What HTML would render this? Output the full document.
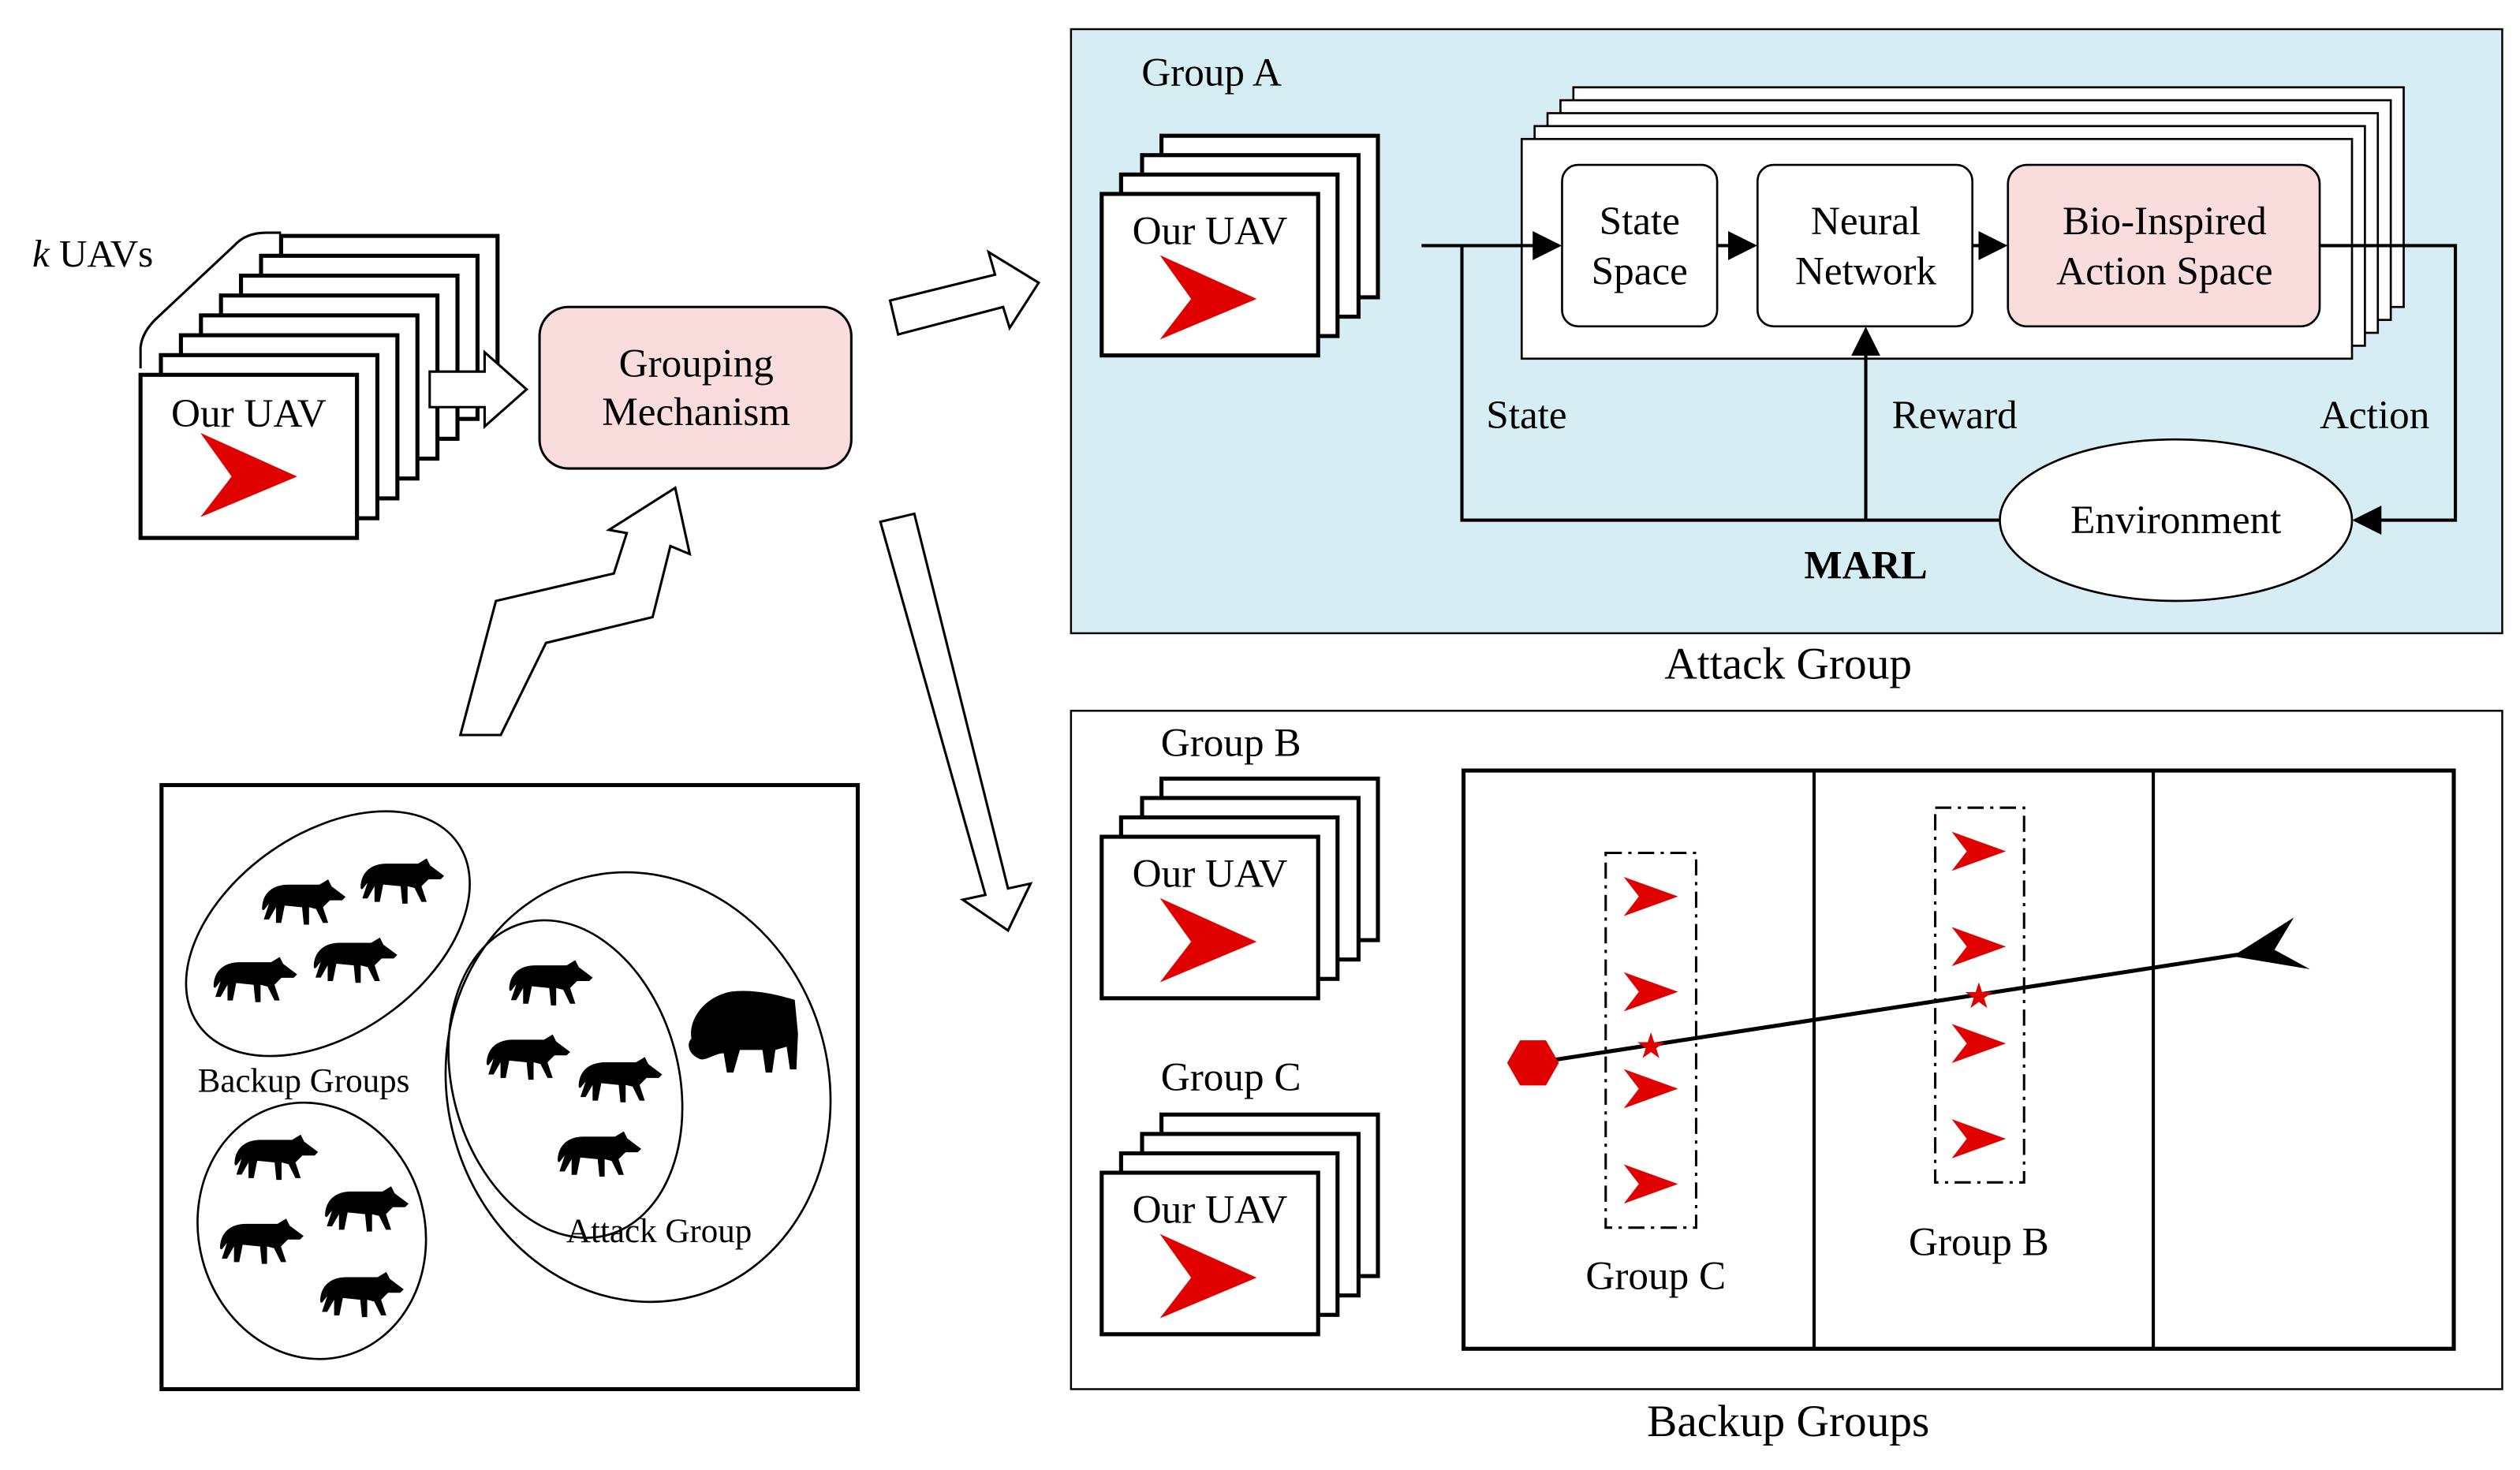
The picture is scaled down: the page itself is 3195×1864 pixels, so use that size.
<!DOCTYPE html>
<html><head><meta charset="utf-8"><style>
html,body{margin:0;padding:0;background:#fff}
svg{display:block}
text{font-family:"Liberation Serif",serif;fill:#000}
</style></head><body>
<svg width="3195" height="1864" viewBox="0 0 1560 910" xmlns="http://www.w3.org/2000/svg">
<defs>
<symbol id="uav" viewBox="0 0 70 60"><path d="M4,56 L66,30 L4,2 L24,30 Z" fill="#e00000"/></symbol>
<symbol id="sm" viewBox="0 0 40 30"><path d="M2,28 L38,15 L2,2 L12,15 Z" fill="#e00000"/></symbol>
<symbol id="wolf" viewBox="0 0 52 28"><path d="M3,17 C3,8 9,3 18,3 L36,3 L41,0 L43,4 L51,10 L49,12 L42,12 L38,16 L41,25 L38,25 L34,17 L30,16 L30,26 L27,26 L26,16 L16,15 L14,25 L11,25 L11,16 L7,23 L4,23 L7,14 C5,16 4,19 3,17 Z" fill="#000"/></symbol>
<marker id="ar" viewBox="0 0 10 10" refX="9" refY="5" markerWidth="9" markerHeight="9" orient="auto"><path d="M0,0 L10,5 L0,10 Z" fill="#000"/></marker>
</defs>

<g fill="#fff" stroke="#000" stroke-width="2.5">
<rect x="174" y="146" width="134" height="101"/>
<rect x="161.6" y="158.3" width="134" height="101"/>
<rect x="149.2" y="170.6" width="134" height="101"/>
<rect x="136.8" y="182.9" width="134" height="101"/>
<rect x="124.4" y="195.2" width="134" height="101"/>
<rect x="112" y="207.5" width="134" height="101"/>
<rect x="99.6" y="219.8" width="134" height="101"/>
<rect x="87" y="232" width="134" height="101"/>
</g>
<path d="M87,228 L87,215 Q88,205 98,196 L145,152 Q152,144 165,144 L174,144" fill="none" stroke="#000" stroke-width="1.5"/>
<text x="20" y="165" font-size="24"><tspan font-style="italic">k</tspan> UAVs</text>
<text x="154" y="264" font-size="25" text-anchor="middle">Our UAV</text>
<use href="#uav" x="120" y="266" width="68" height="58"/>

<path d="M266,230 L300,230 L300,218 L326,241 L300,264 L300,252 L266,252 Z" fill="#fff" stroke="#000" stroke-width="1.5"/>

<rect x="334" y="190" width="193" height="100" rx="18" fill="#f9dcdc" stroke="#000" stroke-width="1.5"/>
<text x="431" y="233" font-size="25" text-anchor="middle">Grouping</text>
<text x="431" y="263" font-size="25" text-anchor="middle">Mechanism</text>

<path d="M551,186 L616,170 L612,156 L643,175 L625,203 L621,190 L556,207 Z" fill="#fff" stroke="#000" stroke-width="1.5"/>
<path d="M545,323 L566,318 L624,550 L638,547 L624,576 L596,557 L610,554 Z" fill="#fff" stroke="#000" stroke-width="1.5"/>
<path d="M285,455 L307,372 L380,355 L388,330 L377,328 L418,302 L427,343 L415,338 L404,382 L338,398 L310,455 Z" fill="#fff" stroke="#000" stroke-width="1.5"/>

<rect x="100" y="486" width="431" height="374" fill="#fff" stroke="#000" stroke-width="2.5"/>
<ellipse cx="203" cy="578" rx="98" ry="62" transform="rotate(-35 203 578)" fill="none" stroke="#000" stroke-width="1.3"/>
<ellipse cx="193" cy="762" rx="70" ry="80" transform="rotate(-15 193 762)" fill="none" stroke="#000" stroke-width="1.3"/>
<ellipse cx="395" cy="673" rx="118" ry="134" transform="rotate(-15 395 673)" fill="none" stroke="#000" stroke-width="1.3"/>
<ellipse cx="350" cy="668" rx="70" ry="100" transform="rotate(-15 350 668)" fill="none" stroke="#000" stroke-width="1.3"/>
<g>
<use href="#wolf" x="159" y="544" width="56" height="31"/>
<use href="#wolf" x="220" y="531" width="56" height="31"/>
<use href="#wolf" x="129" y="592" width="56" height="31"/>
<use href="#wolf" x="191" y="580" width="56" height="31"/>
<use href="#wolf" x="312" y="594" width="56" height="31"/>
<use href="#wolf" x="298" y="640" width="56" height="31"/>
<use href="#wolf" x="355" y="654" width="56" height="31"/>
<use href="#wolf" x="342" y="700" width="56" height="31"/>
<use href="#wolf" x="142" y="702" width="56" height="31"/>
<use href="#wolf" x="198" y="734" width="56" height="31"/>
<use href="#wolf" x="133" y="754" width="56" height="31"/>
<use href="#wolf" x="195" y="787" width="56" height="31"/>
</g>
<path d="M428,643 C426,630 437,617 452,614 C466,612 482,616 492,619 L494,640 L493,662 L489,662 L487,648 L480,650 L478,664 L474,664 L472,650 L458,650 L454,664 L450,664 L448,652 C442,652 436,658 432,655 C426,652 425,646 428,643 Z" fill="#000"/>
<text x="188" y="676" font-size="21" text-anchor="middle">Backup Groups</text>
<text x="408" y="769" font-size="21" text-anchor="middle">Attack Group</text>

<rect x="663" y="18" width="886" height="374" fill="#d6eef3" stroke="#000" stroke-width="1.2"/>
<text x="750" y="53" font-size="25" text-anchor="middle">Group A</text>
<text x="1107" y="420" font-size="28" text-anchor="middle">Attack Group</text>
<g fill="#fff" stroke="#000" stroke-width="2.5">
<rect x="719" y="84" width="134" height="100"/>
<rect x="707" y="96" width="134" height="100"/>
<rect x="694" y="108" width="134" height="100"/>
<rect x="682" y="120" width="134" height="100"/>
</g>
<text x="749" y="151" font-size="25" text-anchor="middle">Our UAV</text>
<use href="#uav" x="714" y="156" width="68" height="58"/>

<g fill="#fff" stroke="#000" stroke-width="1.3">
<rect x="974" y="54" width="514" height="136"/>
<rect x="966" y="62" width="514" height="136"/>
<rect x="958" y="70" width="514" height="136"/>
<rect x="950" y="78" width="514" height="136"/>
<rect x="942" y="86" width="514" height="136"/>
</g>
<rect x="967" y="102" width="96" height="100" rx="10" fill="#fff" stroke="#000" stroke-width="1.3"/>
<rect x="1088" y="102" width="133" height="100" rx="10" fill="#fff" stroke="#000" stroke-width="1.3"/>
<rect x="1243" y="102" width="193" height="100" rx="12" fill="#f9dcdc" stroke="#000" stroke-width="1.3"/>
<text x="1015" y="145" font-size="25" text-anchor="middle">State</text>
<text x="1015" y="176" font-size="25" text-anchor="middle">Space</text>
<text x="1155" y="145" font-size="25" text-anchor="middle">Neural</text>
<text x="1155" y="176" font-size="25" text-anchor="middle">Network</text>
<text x="1340" y="145" font-size="25" text-anchor="middle">Bio-Inspired</text>
<text x="1340" y="176" font-size="25" text-anchor="middle">Action Space</text>
<g stroke="#000" stroke-width="2" fill="none">
<line x1="880" y1="152" x2="965" y2="152" marker-end="url(#ar)"/>
<line x1="1063" y1="152" x2="1086" y2="152" marker-end="url(#ar)"/>
<line x1="1221" y1="152" x2="1241" y2="152" marker-end="url(#ar)"/>
<polyline points="1436,152 1520,152 1520,322 1458,322" marker-end="url(#ar)"/>
<polyline points="1238,322 905,322 905,152"/>
<line x1="1155" y1="322" x2="1155" y2="204" marker-end="url(#ar)"/>
</g>
<ellipse cx="1347" cy="322" rx="109" ry="50" fill="#fff" stroke="#000" stroke-width="1.3"/>
<text x="1347" y="330" font-size="25" text-anchor="middle">Environment</text>
<text x="945" y="265" font-size="25" text-anchor="middle">State</text>
<text x="1210" y="265" font-size="25" text-anchor="middle">Reward</text>
<text x="1470" y="265" font-size="25" text-anchor="middle">Action</text>
<text x="1155" y="358" font-size="25" font-weight="bold" text-anchor="middle">MARL</text>

<rect x="663" y="440" width="886" height="420" fill="#fff" stroke="#000" stroke-width="1.2"/>
<text x="1107" y="889" font-size="28" text-anchor="middle">Backup Groups</text>
<text x="762" y="468" font-size="25" text-anchor="middle">Group B</text>
<text x="762" y="675" font-size="25" text-anchor="middle">Group C</text>
<g fill="#fff" stroke="#000" stroke-width="2.5">
<rect x="719" y="482" width="134" height="100"/>
<rect x="707" y="494" width="134" height="100"/>
<rect x="694" y="506" width="134" height="100"/>
<rect x="682" y="518" width="134" height="100"/>
<rect x="719" y="690" width="134" height="100"/>
<rect x="707" y="702" width="134" height="100"/>
<rect x="694" y="714" width="134" height="100"/>
<rect x="682" y="726" width="134" height="100"/>
</g>
<text x="749" y="549" font-size="25" text-anchor="middle">Our UAV</text>
<use href="#uav" x="714" y="554" width="68" height="58"/>
<text x="749" y="757" font-size="25" text-anchor="middle">Our UAV</text>
<use href="#uav" x="714" y="762" width="68" height="58"/>

<rect x="906" y="477" width="613" height="358" fill="#fff" stroke="#000" stroke-width="2.5"/>
<line x1="1123" y1="477" x2="1123" y2="835" stroke="#000" stroke-width="2"/>
<line x1="1333" y1="477" x2="1333" y2="835" stroke="#000" stroke-width="2"/>
<rect x="994" y="528" width="56" height="232" fill="none" stroke="#000" stroke-width="1.5" stroke-dasharray="10,4,2,4"/>
<rect x="1198" y="500" width="55" height="232" fill="none" stroke="#000" stroke-width="1.5" stroke-dasharray="10,4,2,4"/>
<text x="1025" y="798" font-size="25" text-anchor="middle">Group C</text>
<text x="1225" y="777" font-size="25" text-anchor="middle">Group B</text>
<use href="#sm" x="1003" y="541" width="38" height="28"/>
<use href="#sm" x="1003" y="600" width="38" height="28"/>
<use href="#sm" x="1003" y="660" width="38" height="28"/>
<use href="#sm" x="1003" y="719" width="38" height="28"/>
<use href="#sm" x="1206" y="513" width="38" height="28"/>
<use href="#sm" x="1206" y="572" width="38" height="28"/>
<use href="#sm" x="1206" y="632" width="38" height="28"/>
<use href="#sm" x="1206" y="691" width="38" height="28"/>
<line x1="950" y1="658" x2="1392" y2="590" stroke="#000" stroke-width="2.5"/>
<path d="M1382,592 L1420,568 L1408,588 L1430,600 Z" fill="#000"/>
<polygon points="941,644 957,644 965,658 957,672 941,672 933,658" fill="#e00000"/>
<text x="1022" y="655" font-size="22" text-anchor="middle" style="fill:#e00000">★</text>
<text x="1225" y="624" font-size="22" text-anchor="middle" style="fill:#e00000">★</text>
</svg>
</body></html>
